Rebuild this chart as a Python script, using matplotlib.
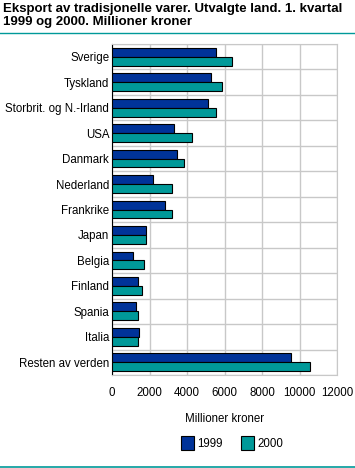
import numpy as np
import matplotlib
matplotlib.use("Agg")
import matplotlib.pyplot as plt
from matplotlib.patches import Patch

# data (millioner kroner)
countries = ["Sverige", "Tyskland", "Storbrit. og N.-Irland", "USA", "Danmark",
             "Nederland", "Frankrike", "Japan", "Belgia", "Finland", "Spania",
             "Italia", "Resten av verden"]
val_1999 = [5550, 5280, 5120, 3310, 3470, 2190, 2830, 1810, 1120, 1390, 1280, 1440, 9550]
val_2000 = [6400, 5870, 5550, 4270, 3860, 3200, 3200, 1810, 1710, 1600, 1390, 1390, 10560]
years = ["1999", "2000"]
xticks = [0, 2000, 4000, 6000, 8000, 10000, 12000]

c1999 = "#003399"
c2000 = "#009999"
grid_c = "#c8c8c8"

plt.rcParams['font.family'] = ['Liberation Sans', 'DejaVu Sans']

fig = plt.figure(figsize=(3.55, 4.68), dpi=100)
W, H = 355, 468
ax = fig.add_axes([112 / W, 1 - 375 / H, 225 / W, (375 - 44) / H])

n = len(countries)
y = np.arange(n)
h = 0.35
ax.barh(y - h / 2, val_1999, height=h, color=c1999, edgecolor="black", linewidth=0.8, zorder=3)
ax.barh(y + h / 2, val_2000, height=h, color=c2000, edgecolor="black", linewidth=0.8, zorder=3)

fs = 8.3
ax.set_xlim(0, 12000)
ax.set_ylim(n - 0.5, -0.5)
ax.set_xticks(xticks)
ax.set_xticklabels([str(t) for t in xticks], fontsize=fs)
ax.set_yticks(y)
ax.set_yticklabels(countries, fontsize=fs)
ax.set_yticks(np.arange(n + 1) - 0.5, minor=True)
ax.tick_params(axis="both", which="both", length=0)
ax.tick_params(axis="x", pad=9)
ax.tick_params(axis="y", pad=2)
ax.grid(axis="x", color=grid_c, linewidth=1, zorder=0)
ax.grid(axis="y", which="minor", color=grid_c, linewidth=1, zorder=0)
ax.grid(axis="y", which="major", visible=False)
for s in ["top", "right", "bottom"]:
    ax.spines[s].set_color(grid_c)
ax.spines["left"].set_color("black")
ax.spines["left"].set_linewidth(0.8)
ax.set_xlabel("Millioner kroner", fontsize=fs, labelpad=10)

fig.text(3 / W, 1 - 3 / H, "Eksport av tradisjonelle varer. Utvalgte land. 1. kvartal\n1999 og 2000. Millioner kroner",
         fontsize=9.5, fontweight="bold", va="top", ha="left", linespacing=1.12)
fig.add_artist(plt.Line2D([0, 1], [1 - 33 / H, 1 - 33 / H], color=c2000, linewidth=1))
fig.add_artist(plt.Line2D([0, 1], [1 - 466.5 / H, 1 - 466.5 / H], color=c2000, linewidth=1.2))

handles = [Patch(facecolor=c1999, edgecolor="black", linewidth=0.8),
           Patch(facecolor=c2000, edgecolor="black", linewidth=0.8)]
fig.legend(handles, years, loc="center", bbox_to_anchor=(232 / W, 1 - 443 / H), ncol=2,
           frameon=False, fontsize=fs, handlelength=1.1, handleheight=1.6,
           handletextpad=0.3, columnspacing=1.6)

fig.savefig("out.png", dpi=100)
